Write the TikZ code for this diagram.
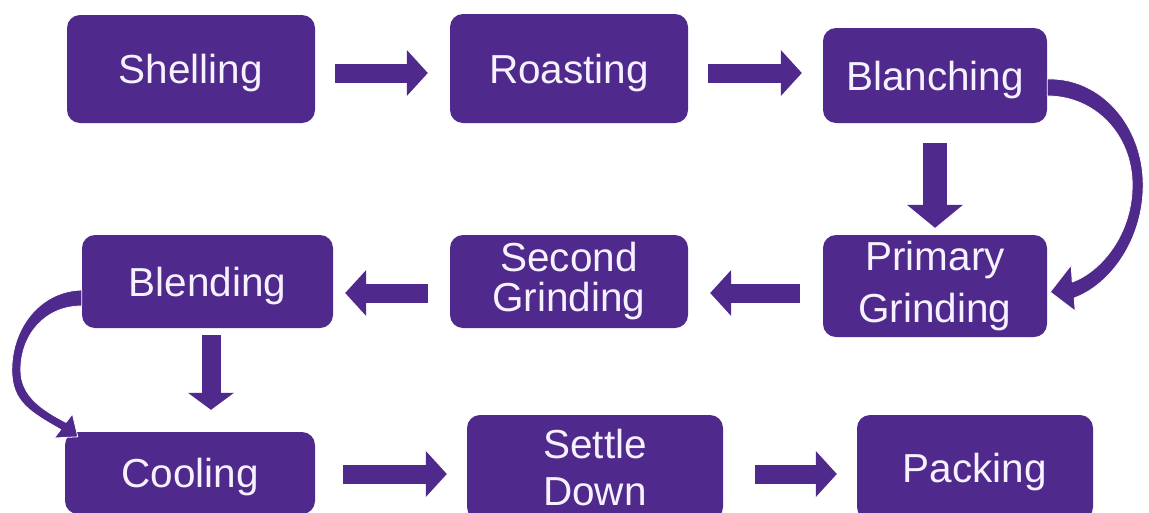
\documentclass[tikz,border=0pt]{standalone}
\usepackage{fontspec}
\setmainfont{Liberation Sans}
\usetikzlibrary{arrows.meta,calc}
\definecolor{nutpurple}{RGB}{79,41,139}
\definecolor{stagetext}{RGB}{246,241,255}
\begin{document}
\begin{tikzpicture}[x=1pt,y=-1pt,
  stage/.style={fill=nutpurple, rounded corners=13pt, text=stagetext,
    align=center, inner sep=0pt, font=\fontsize{40.5}{46}\selectfont},
  oneline/.style={text depth=0pt},
  flow/.style={draw=nutpurple, line width=19pt,
    -{Triangle[width=46pt,length=21pt,line width=0pt]}},
  flowwide/.style={draw=nutpurple, line width=24pt,
    -{Triangle[width=56pt,length=23pt,line width=0pt]}},
  flowshort/.style={draw=nutpurple, line width=19pt,
    -{Triangle[width=46pt,length=17pt,line width=0pt]}},
  curvedarrow/.style={fill=nutpurple, draw=white, line width=0.8pt, line join=round}
]
\path[use as bounding box, fill=white] (0,0) rectangle (1149,512);
\clip (0,0) rectangle (1149,512);

% process stages
\node[stage, oneline, minimum width=248pt, minimum height=108pt] (shell)   at (191,69)    {Shelling};
\node[stage, oneline, minimum width=238pt, minimum height=109pt] (roast)   at (569,68.5)  {Roasting};
\node[stage, oneline, minimum width=224pt, minimum height=95pt]  (blanch)  at (935,75.5)  {Blanching};
\node[stage, minimum width=224pt, minimum height=102pt,
      font=\fontsize{40.5}{52}\selectfont]              (primary) at (935,286)   {Primary\\Grinding};
\node[stage, minimum width=238pt, minimum height=93pt,
      font=\fontsize{40.5}{40}\selectfont]              (second)  at (569,281.5) {Second\\Grinding};
\node[stage, oneline, minimum width=251pt, minimum height=93pt]  (blend)   at (207.5,281.5) {Blending};
\node[stage, oneline, minimum width=250pt, minimum height=82pt]  (cool)    at (190,473)   {Cooling};
\node[stage, minimum width=256pt, minimum height=105pt,
      font=\fontsize{40.5}{47}\selectfont]              (settle)  at (595,467.5) {Settle\\Down};
\node[stage, oneline, minimum width=236pt, minimum height=105pt] (pack)    at (975,467.5) {Packing};

% straight block arrows
\draw[flow] ($(shell.east)+(20,4)$) -- ($(roast.west)+(-22,4.5)$);
\draw[flow] ($(roast.east)+(20,4.5)$) -- ($(blanch.west)+(-21,-2.5)$);
\draw[flowwide] ($(blanch.south)+(0,20)$) -- ($(primary.north)+(0,-7)$);
\draw[flow] ($(primary.west)+(-23,7)$) -- ($(second.east)+(22,11.5)$);
\draw[flow] ($(second.west)+(-22,11.5)$) -- ($(blend.east)+(12,11.5)$);
\draw[flowshort] ($(blend.south)+(3.5,7)$) -- ($(cool.north)+(21,-22)$);
\draw[flow] ($(cool.east)+(28,1)$) -- ($(settle.west)+(-20,6.5)$);
\draw[flow] ($(settle.east)+(32,6.5)$) -- ($(pack.west)+(-20,6.5)$);

% curved arrow: Blanching round to Primary Grinding
\path[curvedarrow]
  ($(blanch.east)+(0,3.5)$)
  .. controls ($(blanch.east)+(53,1.5)$) and ($(blanch.east)+(96,49.5)$) .. ($(blanch.east)+(96,109.5)$)
  .. controls ($(primary.east)+(96,-46)$) and ($(primary.east)+(63,-1)$) .. ($(primary.east)+(27,12)$)
  -- ($(primary.east)+(28,25)$)
  -- ($(primary.east)+(3,6)$)
  -- ($(primary.east)+(24,-21)$)
  -- ($(primary.east)+(25,-4)$)
  .. controls ($(primary.east)+(53,-14)$) and ($(primary.east)+(85,-51)$) .. ($(blanch.east)+(85,109.5)$)
  .. controls ($(blanch.east)+(85,59.5)$) and ($(blanch.east)+(48,20.5)$) .. ($(blanch.east)+(0,20.5)$)
  -- cycle;

% curved arrow: Blending round to Cooling
\path[curvedarrow]
  ($(blend.west)+(0,8.5)$)
  .. controls ($(blend.west)+(-42,9.5)$) and ($(blend.west)+(-70,46.5)$) .. ($(blend.west)+(-70,88.5)$)
  .. controls ($(cool.north west)+(-53,-30)$) and ($(cool.north west)+(-35,-20)$) .. ($(cool.north west)+(-4.1,-2.2)$)
  -- ($(cool.north west)+(-10.4,6.2)$)
  -- ($(cool.north west)+(13,5)$)
  -- ($(cool.north west)+(7.6,-17.8)$)
  -- ($(cool.north west)+(1.3,-9.4)$)
  .. controls ($(cool.north west)+(-23,-22)$) and ($(cool.north west)+(-44,-36)$) .. ($(blend.west)+(-61,88.5)$)
  .. controls ($(blend.west)+(-61,53.5)$) and ($(blend.west)+(-37,24.5)$) .. ($(blend.west)+(0,24.5)$)
  -- cycle;
\end{tikzpicture}
\end{document}
